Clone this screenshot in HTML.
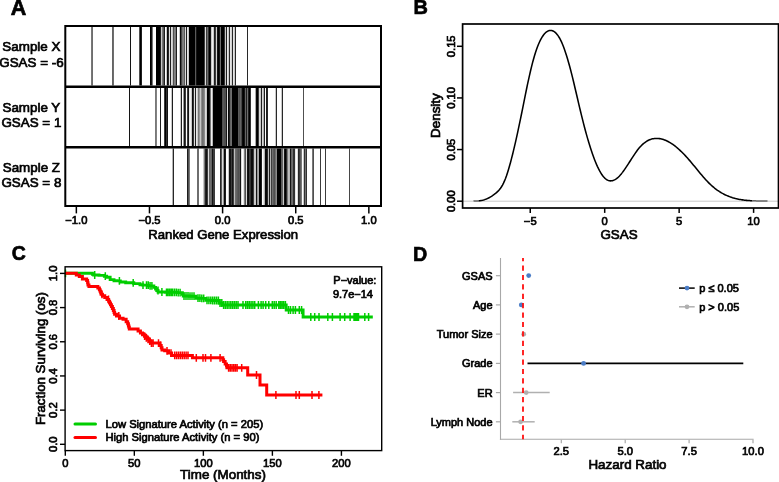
<!DOCTYPE html>
<html><head><meta charset="utf-8"><style>
html,body{margin:0;padding:0;background:#fff;}
svg{display:block;}
text{font-family:"Liberation Sans",sans-serif;}
.t text{stroke:#000;stroke-width:0.7px;}
</style></head><body>
<svg width="779" height="482" viewBox="0 0 779 482">
<rect width="779" height="482" fill="#fff"/>
<rect x="91" y="27" width="1" height="58.5" fill="#787878"/>
<rect x="92" y="27" width="1" height="58.5" fill="#6e6e6e"/>
<rect x="112" y="27" width="1" height="58.5" fill="#646464"/>
<rect x="113" y="27" width="1" height="58.5" fill="#6e6e6e"/>
<rect x="130" y="27" width="1" height="58.5" fill="#141414"/>
<rect x="139" y="27" width="1" height="58.5" fill="#505050"/>
<rect x="140" y="27" width="1" height="58.5" fill="#000000"/>
<rect x="141" y="27" width="1" height="58.5" fill="#1e1e1e"/>
<rect x="150" y="27" width="1" height="58.5" fill="#000000"/>
<rect x="151" y="27" width="1" height="58.5" fill="#141414"/>
<rect x="152" y="27" width="1" height="58.5" fill="#787878"/>
<rect x="156" y="27" width="4" height="58.5" fill="#000000"/>
<rect x="160" y="27" width="1" height="58.5" fill="#1e1e1e"/>
<rect x="161" y="27" width="1" height="58.5" fill="#c8c8c8"/>
<rect x="162" y="27" width="1" height="58.5" fill="#787878"/>
<rect x="163" y="27" width="1" height="58.5" fill="#5a5a5a"/>
<rect x="164" y="27" width="1" height="58.5" fill="#1e1e1e"/>
<rect x="166" y="27" width="1" height="58.5" fill="#c8c8c8"/>
<rect x="167" y="27" width="1" height="58.5" fill="#0a0a0a"/>
<rect x="168" y="27" width="1" height="58.5" fill="#282828"/>
<rect x="169" y="27" width="1" height="58.5" fill="#dcdcdc"/>
<rect x="170" y="27" width="1" height="58.5" fill="#1e1e1e"/>
<rect x="171" y="27" width="1" height="58.5" fill="#dcdcdc"/>
<rect x="172" y="27" width="1" height="58.5" fill="#c8c8c8"/>
<rect x="173" y="27" width="1" height="58.5" fill="#505050"/>
<rect x="174" y="27" width="1" height="58.5" fill="#828282"/>
<rect x="175" y="27" width="1" height="58.5" fill="#787878"/>
<rect x="176" y="27" width="1" height="58.5" fill="#1e1e1e"/>
<rect x="179" y="27" width="1" height="58.5" fill="#c8c8c8"/>
<rect x="180" y="27" width="1" height="58.5" fill="#0a0a0a"/>
<rect x="181" y="27" width="1" height="58.5" fill="#464646"/>
<rect x="182" y="27" width="1" height="58.5" fill="#787878"/>
<rect x="183" y="27" width="1" height="58.5" fill="#828282"/>
<rect x="184" y="27" width="1" height="58.5" fill="#5a5a5a"/>
<rect x="185" y="27" width="1" height="58.5" fill="#dcdcdc"/>
<rect x="186" y="27" width="1" height="58.5" fill="#1e1e1e"/>
<rect x="187" y="27" width="1" height="58.5" fill="#e6e6e6"/>
<rect x="188" y="27" width="1" height="58.5" fill="#c8c8c8"/>
<rect x="189" y="27" width="6" height="58.5" fill="#000000"/>
<rect x="195" y="27" width="1" height="58.5" fill="#5a5a5a"/>
<rect x="196" y="27" width="1" height="58.5" fill="#141414"/>
<rect x="197" y="27" width="7" height="58.5" fill="#000000"/>
<rect x="204" y="27" width="1" height="58.5" fill="#3c3c3c"/>
<rect x="205" y="27" width="1" height="58.5" fill="#dcdcdc"/>
<rect x="206" y="27" width="1" height="58.5" fill="#3c3c3c"/>
<rect x="207" y="27" width="1" height="58.5" fill="#6e6e6e"/>
<rect x="208" y="27" width="1" height="58.5" fill="#323232"/>
<rect x="209" y="27" width="1" height="58.5" fill="#000000"/>
<rect x="210" y="27" width="1" height="58.5" fill="#141414"/>
<rect x="211" y="27" width="1" height="58.5" fill="#c8c8c8"/>
<rect x="212" y="27" width="1" height="58.5" fill="#f0f0f0"/>
<rect x="213" y="27" width="1" height="58.5" fill="#c8c8c8"/>
<rect x="214" y="27" width="1" height="58.5" fill="#1e1e1e"/>
<rect x="215" y="27" width="1" height="58.5" fill="#3c3c3c"/>
<rect x="216" y="27" width="1" height="58.5" fill="#d2d2d2"/>
<rect x="217" y="27" width="1" height="58.5" fill="#141414"/>
<rect x="218" y="27" width="1" height="58.5" fill="#000000"/>
<rect x="219" y="27" width="1" height="58.5" fill="#141414"/>
<rect x="220" y="27" width="1" height="58.5" fill="#6e6e6e"/>
<rect x="221" y="27" width="3" height="58.5" fill="#000000"/>
<rect x="224" y="27" width="1" height="58.5" fill="#323232"/>
<rect x="225" y="27" width="1" height="58.5" fill="#c8c8c8"/>
<rect x="226" y="27" width="1" height="58.5" fill="#1e1e1e"/>
<rect x="227" y="27" width="1" height="58.5" fill="#e6e6e6"/>
<rect x="228" y="27" width="1" height="58.5" fill="#c8c8c8"/>
<rect x="229" y="27" width="1" height="58.5" fill="#282828"/>
<rect x="230" y="27" width="1" height="58.5" fill="#e6e6e6"/>
<rect x="231" y="27" width="1" height="58.5" fill="#d2d2d2"/>
<rect x="232" y="27" width="1" height="58.5" fill="#282828"/>
<rect x="233" y="27" width="1" height="58.5" fill="#e6e6e6"/>
<rect x="234" y="27" width="1" height="58.5" fill="#c8c8c8"/>
<rect x="235" y="27" width="1" height="58.5" fill="#282828"/>
<rect x="247" y="27" width="1" height="58.5" fill="#282828"/>
<rect x="129" y="88" width="1" height="58" fill="#141414"/>
<rect x="155" y="88" width="1" height="58" fill="#787878"/>
<rect x="156" y="88" width="1" height="58" fill="#828282"/>
<rect x="160" y="88" width="1" height="58" fill="#1e1e1e"/>
<rect x="164" y="88" width="1" height="58" fill="#3c3c3c"/>
<rect x="165" y="88" width="1" height="58" fill="#000000"/>
<rect x="166" y="88" width="1" height="58" fill="#323232"/>
<rect x="167" y="88" width="1" height="58" fill="#141414"/>
<rect x="171" y="88" width="1" height="58" fill="#c8c8c8"/>
<rect x="172" y="88" width="1" height="58" fill="#1e1e1e"/>
<rect x="180" y="88" width="1" height="58" fill="#c8c8c8"/>
<rect x="181" y="88" width="1" height="58" fill="#1e1e1e"/>
<rect x="183" y="88" width="1" height="58" fill="#969696"/>
<rect x="184" y="88" width="1" height="58" fill="#141414"/>
<rect x="185" y="88" width="1" height="58" fill="#3c3c3c"/>
<rect x="187" y="88" width="1" height="58" fill="#3c3c3c"/>
<rect x="188" y="88" width="1" height="58" fill="#141414"/>
<rect x="189" y="88" width="1" height="58" fill="#e6e6e6"/>
<rect x="190" y="88" width="1" height="58" fill="#f0f0f0"/>
<rect x="191" y="88" width="1" height="58" fill="#c8c8c8"/>
<rect x="192" y="88" width="1" height="58" fill="#0a0a0a"/>
<rect x="193" y="88" width="1" height="58" fill="#323232"/>
<rect x="194" y="88" width="1" height="58" fill="#dcdcdc"/>
<rect x="195" y="88" width="1" height="58" fill="#1e1e1e"/>
<rect x="196" y="88" width="1" height="58" fill="#e6e6e6"/>
<rect x="197" y="88" width="1" height="58" fill="#c8c8c8"/>
<rect x="198" y="88" width="1" height="58" fill="#787878"/>
<rect x="199" y="88" width="1" height="58" fill="#969696"/>
<rect x="200" y="88" width="1" height="58" fill="#c8c8c8"/>
<rect x="201" y="88" width="1" height="58" fill="#8c8c8c"/>
<rect x="202" y="88" width="1" height="58" fill="#6e6e6e"/>
<rect x="203" y="88" width="1" height="58" fill="#787878"/>
<rect x="204" y="88" width="1" height="58" fill="#8c8c8c"/>
<rect x="205" y="88" width="1" height="58" fill="#dcdcdc"/>
<rect x="206" y="88" width="1" height="58" fill="#c8c8c8"/>
<rect x="207" y="88" width="2" height="58" fill="#000000"/>
<rect x="209" y="88" width="1" height="58" fill="#141414"/>
<rect x="210" y="88" width="1" height="58" fill="#787878"/>
<rect x="211" y="88" width="1" height="58" fill="#f0f0f0"/>
<rect x="212" y="88" width="1" height="58" fill="#b4b4b4"/>
<rect x="213" y="88" width="9" height="58" fill="#000000"/>
<rect x="222" y="88" width="1" height="58" fill="#505050"/>
<rect x="223" y="88" width="1" height="58" fill="#5a5a5a"/>
<rect x="224" y="88" width="2" height="58" fill="#505050"/>
<rect x="226" y="88" width="1" height="58" fill="#191919"/>
<rect x="227" y="88" width="1" height="58" fill="#e1e1e1"/>
<rect x="228" y="88" width="1" height="58" fill="#0a0a0a"/>
<rect x="229" y="88" width="1" height="58" fill="#232323"/>
<rect x="230" y="88" width="1" height="58" fill="#646464"/>
<rect x="231" y="88" width="1" height="58" fill="#6e6e6e"/>
<rect x="232" y="88" width="6" height="58" fill="#000000"/>
<rect x="238" y="88" width="1" height="58" fill="#5a5a5a"/>
<rect x="239" y="88" width="1" height="58" fill="#505050"/>
<rect x="240" y="88" width="1" height="58" fill="#646464"/>
<rect x="241" y="88" width="1" height="58" fill="#464646"/>
<rect x="242" y="88" width="1" height="58" fill="#0a0a0a"/>
<rect x="243" y="88" width="1" height="58" fill="#000000"/>
<rect x="244" y="88" width="1" height="58" fill="#141414"/>
<rect x="245" y="88" width="1" height="58" fill="#646464"/>
<rect x="246" y="88" width="1" height="58" fill="#1e1e1e"/>
<rect x="247" y="88" width="1" height="58" fill="#6e6e6e"/>
<rect x="248" y="88" width="1" height="58" fill="#1e1e1e"/>
<rect x="249" y="88" width="1" height="58" fill="#000000"/>
<rect x="250" y="88" width="1" height="58" fill="#323232"/>
<rect x="255" y="88" width="1" height="58" fill="#aaaaaa"/>
<rect x="256" y="88" width="1" height="58" fill="#0a0a0a"/>
<rect x="257" y="88" width="1" height="58" fill="#000000"/>
<rect x="258" y="88" width="1" height="58" fill="#3c3c3c"/>
<rect x="259" y="88" width="1" height="58" fill="#dcdcdc"/>
<rect x="260" y="88" width="1" height="58" fill="#c8c8c8"/>
<rect x="261" y="88" width="1" height="58" fill="#1e1e1e"/>
<rect x="262" y="88" width="1" height="58" fill="#d7d7d7"/>
<rect x="263" y="88" width="1" height="58" fill="#afafaf"/>
<rect x="264" y="88" width="1" height="58" fill="#1e1e1e"/>
<rect x="266" y="88" width="1" height="58" fill="#1e1e1e"/>
<rect x="267" y="88" width="1" height="58" fill="#282828"/>
<rect x="275" y="88" width="1" height="58" fill="#c8c8c8"/>
<rect x="276" y="88" width="1" height="58" fill="#282828"/>
<rect x="281" y="88" width="1" height="58" fill="#c8c8c8"/>
<rect x="282" y="88" width="1" height="58" fill="#282828"/>
<rect x="303" y="88" width="1" height="58" fill="#505050"/>
<rect x="172" y="148.5" width="1" height="56.5" fill="#b4b4b4"/>
<rect x="173" y="148.5" width="1" height="56.5" fill="#282828"/>
<rect x="187" y="148.5" width="1" height="56.5" fill="#1e1e1e"/>
<rect x="188" y="148.5" width="1" height="56.5" fill="#505050"/>
<rect x="189" y="148.5" width="1" height="56.5" fill="#787878"/>
<rect x="197" y="148.5" width="2" height="56.5" fill="#6e6e6e"/>
<rect x="203" y="148.5" width="1" height="56.5" fill="#c8c8c8"/>
<rect x="204" y="148.5" width="1" height="56.5" fill="#787878"/>
<rect x="205" y="148.5" width="1" height="56.5" fill="#232323"/>
<rect x="206" y="148.5" width="1" height="56.5" fill="#141414"/>
<rect x="207" y="148.5" width="1" height="56.5" fill="#3c3c3c"/>
<rect x="208" y="148.5" width="1" height="56.5" fill="#dcdcdc"/>
<rect x="209" y="148.5" width="1" height="56.5" fill="#646464"/>
<rect x="210" y="148.5" width="1" height="56.5" fill="#6e6e6e"/>
<rect x="211" y="148.5" width="1" height="56.5" fill="#646464"/>
<rect x="212" y="148.5" width="1" height="56.5" fill="#141414"/>
<rect x="213" y="148.5" width="2" height="56.5" fill="#3c3c3c"/>
<rect x="220" y="148.5" width="1" height="56.5" fill="#282828"/>
<rect x="221" y="148.5" width="1" height="56.5" fill="#5a5a5a"/>
<rect x="222" y="148.5" width="1" height="56.5" fill="#dcdcdc"/>
<rect x="223" y="148.5" width="1" height="56.5" fill="#969696"/>
<rect x="224" y="148.5" width="1" height="56.5" fill="#0a0a0a"/>
<rect x="225" y="148.5" width="1" height="56.5" fill="#1e1e1e"/>
<rect x="228" y="148.5" width="1" height="56.5" fill="#c8c8c8"/>
<rect x="229" y="148.5" width="2" height="56.5" fill="#141414"/>
<rect x="231" y="148.5" width="1" height="56.5" fill="#3c3c3c"/>
<rect x="232" y="148.5" width="1" height="56.5" fill="#141414"/>
<rect x="233" y="148.5" width="1" height="56.5" fill="#3c3c3c"/>
<rect x="234" y="148.5" width="1" height="56.5" fill="#bebebe"/>
<rect x="235" y="148.5" width="1" height="56.5" fill="#6e6e6e"/>
<rect x="236" y="148.5" width="1" height="56.5" fill="#646464"/>
<rect x="237" y="148.5" width="1" height="56.5" fill="#5a5a5a"/>
<rect x="238" y="148.5" width="1" height="56.5" fill="#505050"/>
<rect x="239" y="148.5" width="1" height="56.5" fill="#5a5a5a"/>
<rect x="240" y="148.5" width="1" height="56.5" fill="#141414"/>
<rect x="241" y="148.5" width="1" height="56.5" fill="#dcdcdc"/>
<rect x="243" y="148.5" width="1" height="56.5" fill="#e6e6e6"/>
<rect x="244" y="148.5" width="1" height="56.5" fill="#828282"/>
<rect x="245" y="148.5" width="1" height="56.5" fill="#505050"/>
<rect x="246" y="148.5" width="1" height="56.5" fill="#dcdcdc"/>
<rect x="247" y="148.5" width="1" height="56.5" fill="#141414"/>
<rect x="248" y="148.5" width="1" height="56.5" fill="#0a0a0a"/>
<rect x="249" y="148.5" width="1" height="56.5" fill="#3c3c3c"/>
<rect x="250" y="148.5" width="1" height="56.5" fill="#323232"/>
<rect x="251" y="148.5" width="2" height="56.5" fill="#0a0a0a"/>
<rect x="253" y="148.5" width="1" height="56.5" fill="#3c3c3c"/>
<rect x="254" y="148.5" width="2" height="56.5" fill="#c8c8c8"/>
<rect x="256" y="148.5" width="1" height="56.5" fill="#141414"/>
<rect x="257" y="148.5" width="1" height="56.5" fill="#969696"/>
<rect x="258" y="148.5" width="1" height="56.5" fill="#aaaaaa"/>
<rect x="259" y="148.5" width="2" height="56.5" fill="#000000"/>
<rect x="261" y="148.5" width="1" height="56.5" fill="#1e1e1e"/>
<rect x="263" y="148.5" width="1" height="56.5" fill="#e6e6e6"/>
<rect x="264" y="148.5" width="1" height="56.5" fill="#b4b4b4"/>
<rect x="265" y="148.5" width="2" height="56.5" fill="#0a0a0a"/>
<rect x="267" y="148.5" width="1" height="56.5" fill="#282828"/>
<rect x="268" y="148.5" width="1" height="56.5" fill="#bebebe"/>
<rect x="269" y="148.5" width="1" height="56.5" fill="#1e1e1e"/>
<rect x="270" y="148.5" width="1" height="56.5" fill="#b4b4b4"/>
<rect x="271" y="148.5" width="1" height="56.5" fill="#3c3c3c"/>
<rect x="272" y="148.5" width="1" height="56.5" fill="#6e6e6e"/>
<rect x="273" y="148.5" width="1" height="56.5" fill="#5a5a5a"/>
<rect x="274" y="148.5" width="1" height="56.5" fill="#505050"/>
<rect x="275" y="148.5" width="1" height="56.5" fill="#6e6e6e"/>
<rect x="276" y="148.5" width="1" height="56.5" fill="#8c8c8c"/>
<rect x="277" y="148.5" width="4" height="56.5" fill="#000000"/>
<rect x="281" y="148.5" width="1" height="56.5" fill="#5a5a5a"/>
<rect x="282" y="148.5" width="1" height="56.5" fill="#646464"/>
<rect x="283" y="148.5" width="1" height="56.5" fill="#c8c8c8"/>
<rect x="284" y="148.5" width="1" height="56.5" fill="#141414"/>
<rect x="285" y="148.5" width="1" height="56.5" fill="#000000"/>
<rect x="286" y="148.5" width="1" height="56.5" fill="#282828"/>
<rect x="287" y="148.5" width="1" height="56.5" fill="#787878"/>
<rect x="288" y="148.5" width="1" height="56.5" fill="#bebebe"/>
<rect x="289" y="148.5" width="1" height="56.5" fill="#b4b4b4"/>
<rect x="290" y="148.5" width="1" height="56.5" fill="#141414"/>
<rect x="291" y="148.5" width="1" height="56.5" fill="#646464"/>
<rect x="292" y="148.5" width="1" height="56.5" fill="#6e6e6e"/>
<rect x="293" y="148.5" width="2" height="56.5" fill="#323232"/>
<rect x="295" y="148.5" width="1" height="56.5" fill="#e6e6e6"/>
<rect x="297" y="148.5" width="1" height="56.5" fill="#dcdcdc"/>
<rect x="298" y="148.5" width="1" height="56.5" fill="#282828"/>
<rect x="299" y="148.5" width="1" height="56.5" fill="#3c3c3c"/>
<rect x="300" y="148.5" width="1" height="56.5" fill="#5a5a5a"/>
<rect x="301" y="148.5" width="1" height="56.5" fill="#787878"/>
<rect x="303" y="148.5" width="1" height="56.5" fill="#c8c8c8"/>
<rect x="304" y="148.5" width="1" height="56.5" fill="#323232"/>
<rect x="305" y="148.5" width="1" height="56.5" fill="#6e6e6e"/>
<rect x="306" y="148.5" width="1" height="56.5" fill="#323232"/>
<rect x="312" y="148.5" width="1" height="56.5" fill="#787878"/>
<rect x="313" y="148.5" width="1" height="56.5" fill="#505050"/>
<rect x="320" y="148.5" width="1" height="56.5" fill="#3c3c3c"/>
<rect x="325" y="148.5" width="1" height="56.5" fill="#3c3c3c"/>
<rect x="349" y="148.5" width="1" height="56.5" fill="#464646"/>
<rect x="65.3" y="26" width="315.7" height="180" fill="none" stroke="#000" stroke-width="2"/>
<line x1="65.3" y1="86.7" x2="381" y2="86.7" stroke="#000" stroke-width="2.5"/>
<line x1="65.3" y1="147.2" x2="381" y2="147.2" stroke="#000" stroke-width="2.5"/>
<line x1="76.35" y1="207" x2="76.35" y2="213.4" stroke="#000" stroke-width="1.5"/>
<line x1="149.47" y1="207" x2="149.47" y2="213.4" stroke="#000" stroke-width="1.5"/>
<line x1="222.6" y1="207" x2="222.6" y2="213.4" stroke="#000" stroke-width="1.5"/>
<line x1="295.73" y1="207" x2="295.73" y2="213.4" stroke="#000" stroke-width="1.5"/>
<line x1="368.85" y1="207" x2="368.85" y2="213.4" stroke="#000" stroke-width="1.5"/>
<line x1="462.6" y1="201.2" x2="778" y2="201.2" stroke="#c8c8c8" stroke-width="1"/>
<path d="M478.5,200.86 L479.5,200.75 L480.5,200.61 L481.5,200.43 L482.5,200.20 L483.5,199.94 L484.5,199.64 L485.5,199.29 L486.5,198.91 L487.5,198.48 L488.5,198.01 L489.5,197.49 L490.5,196.93 L491.5,196.32 L492.5,195.67 L493.5,194.97 L494.5,194.23 L495.5,193.44 L496.5,192.59 L497.5,191.68 L498.5,190.67 L499.5,189.53 L500.5,188.24 L501.5,186.76 L502.5,185.07 L503.5,183.14 L504.5,180.93 L505.5,178.45 L506.5,175.71 L507.5,172.72 L508.5,169.51 L509.5,166.08 L510.5,162.46 L511.5,158.67 L512.5,154.71 L513.5,150.61 L514.5,146.39 L515.5,142.05 L516.5,137.61 L517.5,133.06 L518.5,128.43 L519.5,123.71 L520.5,118.91 L521.5,114.02 L522.5,109.06 L523.5,104.05 L524.5,99.05 L525.5,94.09 L526.5,89.22 L527.5,84.44 L528.5,79.80 L529.5,75.30 L530.5,70.96 L531.5,66.82 L532.5,62.88 L533.5,59.18 L534.5,55.72 L535.5,52.51 L536.5,49.54 L537.5,46.80 L538.5,44.29 L539.5,42.01 L540.5,39.95 L541.5,38.10 L542.5,36.46 L543.5,35.03 L544.5,33.81 L545.5,32.78 L546.5,31.94 L547.5,31.29 L548.5,30.83 L549.5,30.54 L550.5,30.43 L551.5,30.50 L552.5,30.76 L553.5,31.20 L554.5,31.83 L555.5,32.66 L556.5,33.69 L557.5,34.92 L558.5,36.35 L559.5,37.99 L560.5,39.85 L561.5,41.92 L562.5,44.22 L563.5,46.73 L564.5,49.46 L565.5,52.38 L566.5,55.48 L567.5,58.77 L568.5,62.22 L569.5,65.82 L570.5,69.56 L571.5,73.43 L572.5,77.43 L573.5,81.52 L574.5,85.70 L575.5,89.95 L576.5,94.23 L577.5,98.52 L578.5,102.81 L579.5,107.07 L580.5,111.27 L581.5,115.39 L582.5,119.43 L583.5,123.37 L584.5,127.21 L585.5,130.96 L586.5,134.59 L587.5,138.12 L588.5,141.54 L589.5,144.84 L590.5,148.03 L591.5,151.08 L592.5,154.01 L593.5,156.81 L594.5,159.47 L595.5,162.00 L596.5,164.38 L597.5,166.62 L598.5,168.70 L599.5,170.63 L600.5,172.40 L601.5,174.01 L602.5,175.45 L603.5,176.73 L604.5,177.83 L605.5,178.75 L606.5,179.51 L607.5,180.09 L608.5,180.51 L609.5,180.77 L610.5,180.88 L611.5,180.85 L612.5,180.67 L613.5,180.36 L614.5,179.91 L615.5,179.35 L616.5,178.66 L617.5,177.86 L618.5,176.95 L619.5,175.93 L620.5,174.83 L621.5,173.63 L622.5,172.36 L623.5,171.01 L624.5,169.61 L625.5,168.16 L626.5,166.67 L627.5,165.14 L628.5,163.59 L629.5,162.03 L630.5,160.46 L631.5,158.89 L632.5,157.34 L633.5,155.81 L634.5,154.31 L635.5,152.84 L636.5,151.43 L637.5,150.08 L638.5,148.79 L639.5,147.58 L640.5,146.46 L641.5,145.41 L642.5,144.45 L643.5,143.57 L644.5,142.76 L645.5,142.03 L646.5,141.37 L647.5,140.79 L648.5,140.27 L649.5,139.82 L650.5,139.44 L651.5,139.12 L652.5,138.86 L653.5,138.66 L654.5,138.52 L655.5,138.44 L656.5,138.41 L657.5,138.43 L658.5,138.50 L659.5,138.62 L660.5,138.78 L661.5,139.00 L662.5,139.26 L663.5,139.57 L664.5,139.92 L665.5,140.32 L666.5,140.75 L667.5,141.23 L668.5,141.75 L669.5,142.31 L670.5,142.91 L671.5,143.55 L672.5,144.22 L673.5,144.93 L674.5,145.67 L675.5,146.45 L676.5,147.26 L677.5,148.10 L678.5,148.98 L679.5,149.88 L680.5,150.82 L681.5,151.78 L682.5,152.77 L683.5,153.78 L684.5,154.82 L685.5,155.89 L686.5,156.98 L687.5,158.09 L688.5,159.22 L689.5,160.37 L690.5,161.54 L691.5,162.73 L692.5,163.93 L693.5,165.14 L694.5,166.36 L695.5,167.58 L696.5,168.80 L697.5,170.02 L698.5,171.24 L699.5,172.45 L700.5,173.66 L701.5,174.85 L702.5,176.02 L703.5,177.18 L704.5,178.32 L705.5,179.43 L706.5,180.52 L707.5,181.57 L708.5,182.60 L709.5,183.59 L710.5,184.55 L711.5,185.47 L712.5,186.35 L713.5,187.20 L714.5,188.02 L715.5,188.80 L716.5,189.55 L717.5,190.27 L718.5,190.95 L719.5,191.61 L720.5,192.23 L721.5,192.83 L722.5,193.40 L723.5,193.94 L724.5,194.45 L725.5,194.94 L726.5,195.40 L727.5,195.84 L728.5,196.25 L729.5,196.64 L730.5,197.01 L731.5,197.35 L732.5,197.68 L733.5,197.98 L734.5,198.26 L735.5,198.53 L736.5,198.77 L737.5,199.00 L738.5,199.21 L739.5,199.40 L740.5,199.58 L741.5,199.74 L742.5,199.89 L743.5,200.03 L744.5,200.15 L745.5,200.26 L746.5,200.36 L747.5,200.45 L748.5,200.53 L749.5,200.60 L750.5,200.66 L751.5,200.71 L752.5,200.76" fill="none" stroke="#000" stroke-width="1.55" stroke-linejoin="round"/>
<path d="M473.5,200.83 L474.5,200.91 L475.5,200.95 L476.5,200.95 L477.5,200.92 L478.5,200.86" fill="none" stroke="#666" stroke-width="1.5"/>
<path d="M752.5,200.76 L753.5,200.80 L754.5,200.83 L755.5,200.86 L756.5,200.88 L757.5,200.90 L758.5,200.92 L759.5,200.94 L760.5,200.95 L761.5,200.96 L762.5,200.98 L763.5,200.99 L764.5,201.00 L765.5,201.02 L766.5,201.04 L767.5,201.06" fill="none" stroke="#666" stroke-width="1.5"/>
<rect x="462.6" y="24" width="315.9" height="184" fill="none" stroke="#000" stroke-width="1.7"/>
<line x1="457" y1="201.2" x2="462.6" y2="201.2" stroke="#000" stroke-width="1.5"/>
<line x1="457" y1="149.56" x2="462.6" y2="149.56" stroke="#000" stroke-width="1.5"/>
<line x1="457" y1="97.93" x2="462.6" y2="97.93" stroke="#000" stroke-width="1.5"/>
<line x1="457" y1="46.29" x2="462.6" y2="46.29" stroke="#000" stroke-width="1.5"/>
<line x1="530.25" y1="208" x2="530.25" y2="212.9" stroke="#000" stroke-width="1.5"/>
<line x1="604.7" y1="208" x2="604.7" y2="212.9" stroke="#000" stroke-width="1.5"/>
<line x1="679.15" y1="208" x2="679.15" y2="212.9" stroke="#000" stroke-width="1.5"/>
<line x1="753.6" y1="208" x2="753.6" y2="212.9" stroke="#000" stroke-width="1.5"/>
<path d="M65.00,273.30 L92.00,273.30 L92.40,273.30 L92.40,274.20 L92.80,274.20 L93.60,274.20 L93.60,275.00 L94.40,275.00 L99.00,275.00 L99.00,275.40 L103.60,275.40 L104.35,275.40 L104.35,276.20 L105.10,276.20 L106.65,276.20 L106.65,277.30 L108.20,277.30 L110.15,277.30 L110.15,279.60 L112.10,279.60 L114.00,279.60 L114.00,280.80 L115.90,280.80 L116.95,280.80 L116.95,280.90 L118.00,280.90 L120.30,280.90 L120.30,282.00 L122.60,282.00 L125.70,282.00 L125.70,282.80 L128.80,282.80 L133.80,282.80 L133.80,283.60 L138.80,283.60 L139.95,283.60 L139.95,284.70 L141.10,284.70 L142.65,284.70 L142.65,285.10 L144.20,285.10 L148.45,285.10 L148.45,285.90 L152.70,285.90 L153.85,285.90 L153.85,287.40 L155.00,287.40 L155.57,287.40 L155.57,288.95 L156.73,288.95 L156.73,290.50 L157.30,290.50 L158.05,290.50 L158.05,292.00 L158.80,292.00 L165.40,292.00 L165.40,292.30 L172.00,292.30 L177.00,292.30 L177.00,292.60 L182.00,292.60 L182.40,292.60 L182.40,294.30 L183.20,294.30 L183.20,296.00 L183.60,296.00 L189.30,296.00 L189.30,296.20 L195.00,296.20 L196.00,296.20 L196.00,298.20 L197.00,298.20 L201.00,298.20 L201.00,298.40 L205.00,298.40 L205.85,298.40 L205.85,300.30 L206.70,300.30 L212.45,300.30 L212.45,300.50 L218.20,300.50 L219.10,300.50 L219.10,303.00 L220.00,303.00 L222.00,303.00 L222.00,305.00 L224.00,305.00 L286.20,305.00 L286.20,310.00 L303.10,310.00 L303.10,317.00 L372.80,317.00" fill="none" stroke="#00cd00" stroke-width="2.9" stroke-linejoin="miter"/>
<path d="M65.50,269.40 L65.50,277.20 M94.70,271.10 L94.70,278.90 M105.30,272.30 L105.30,280.10 M119.40,277.00 L119.40,284.80 M133.20,278.90 L133.20,286.70 M143.00,281.20 L143.00,289.00 M146.50,281.20 L146.50,289.00 M148.30,281.20 L148.30,289.00 M150.10,282.00 L150.10,289.80 M151.90,282.00 L151.90,289.80 M158.00,286.60 L158.00,294.40 M161.90,288.10 L161.90,295.90 M166.50,288.40 L166.50,296.20 M168.00,288.40 L168.00,296.20 M169.60,288.40 L169.60,296.20 M171.20,288.40 L171.20,296.20 M172.50,288.40 L172.50,296.20 M174.40,288.40 L174.40,296.20 M176.30,288.40 L176.30,296.20 M178.20,288.70 L178.20,296.50 M180.10,288.70 L180.10,296.50 M184.00,292.10 L184.00,299.90 M186.00,292.10 L186.00,299.90 M188.00,292.10 L188.00,299.90 M190.00,292.30 L190.00,300.10 M192.00,292.30 L192.00,300.10 M194.00,292.30 L194.00,300.10 M198.00,294.30 L198.00,302.10 M199.90,294.30 L199.90,302.10 M201.80,294.50 L201.80,302.30 M203.70,294.50 L203.70,302.30 M207.00,296.40 L207.00,304.20 M208.90,296.40 L208.90,304.20 M210.80,296.40 L210.80,304.20 M212.70,296.60 L212.70,304.40 M214.60,296.60 L214.60,304.40 M216.50,296.60 L216.50,304.40 M218.40,296.60 L218.40,304.40 M220.00,299.10 L220.00,306.90 M221.80,299.10 L221.80,306.90 M223.60,301.10 L223.60,308.90 M225.40,301.10 L225.40,308.90 M227.20,301.10 L227.20,308.90 M229.00,301.10 L229.00,308.90 M230.80,301.10 L230.80,308.90 M232.60,301.10 L232.60,308.90 M234.40,301.10 L234.40,308.90 M236.20,301.10 L236.20,308.90 M238.00,301.10 L238.00,308.90 M243.00,301.10 L243.00,308.90 M245.70,301.10 L245.70,308.90 M247.50,301.10 L247.50,308.90 M249.30,301.10 L249.30,308.90 M251.10,301.10 L251.10,308.90 M252.90,301.10 L252.90,308.90 M254.70,301.10 L254.70,308.90 M258.40,301.10 L258.40,308.90 M261.10,301.10 L261.10,308.90 M263.10,301.10 L263.10,308.90 M265.70,301.10 L265.70,308.90 M268.80,301.10 L268.80,308.90 M272.30,301.10 L272.30,308.90 M274.20,301.10 L274.20,308.90 M276.20,301.10 L276.20,308.90 M278.80,301.10 L278.80,308.90 M280.40,301.10 L280.40,308.90 M282.00,301.10 L282.00,308.90 M283.60,301.10 L283.60,308.90 M285.40,301.10 L285.40,308.90 M288.50,306.10 L288.50,313.90 M290.50,306.10 L290.50,313.90 M293.10,306.10 L293.10,313.90 M295.40,306.10 L295.40,313.90 M299.30,306.10 L299.30,313.90 M301.60,306.10 L301.60,313.90 M310.80,313.10 L310.80,320.90 M314.70,313.10 L314.70,320.90 M319.00,313.10 L319.00,320.90 M327.80,313.10 L327.80,320.90 M332.40,313.10 L332.40,320.90 M340.10,313.10 L340.10,320.90 M344.70,313.10 L344.70,320.90 M350.10,313.10 L350.10,320.90 M354.00,313.10 L354.00,320.90 M355.50,313.10 L355.50,320.90 M357.00,313.10 L357.00,320.90 M358.50,313.10 L358.50,320.90 M364.80,313.10 L364.80,320.90 M368.60,313.10 L368.60,320.90 " fill="none" stroke="#00cd00" stroke-width="1.5"/>
<path d="M65.00,273.30 L76.30,273.30 L76.30,275.00 L79.30,275.00 L79.30,276.50 L82.40,276.50 L82.40,278.90 L85.90,278.90 L86.65,278.90 L86.65,280.40 L87.40,280.40 L87.60,280.40 L87.60,282.70 L88.00,282.70 L88.00,285.00 L88.20,285.00 L88.95,285.00 L88.95,286.60 L89.70,286.60 L96.70,286.60 L97.85,286.60 L97.85,288.10 L99.00,288.10 L99.38,288.10 L99.38,289.65 L100.12,289.65 L100.12,291.20 L100.50,291.20 L100.70,291.20 L100.70,292.75 L101.10,292.75 L101.10,294.30 L101.30,294.30 L102.45,294.30 L102.45,295.80 L103.60,295.80 L104.75,295.80 L104.75,297.40 L105.90,297.40 L107.05,297.40 L107.05,299.50 L108.20,299.50 L108.66,299.50 L108.66,301.27 L109.59,301.27 L109.59,303.05 L110.51,303.05 L110.51,304.83 L111.44,304.83 L111.44,306.60 L111.90,306.60 L112.38,306.60 L112.38,308.55 L113.33,308.55 L113.33,310.50 L113.80,310.50 L114.08,310.50 L114.08,312.40 L114.62,312.40 L114.62,314.30 L114.90,314.30 L116.45,314.30 L116.45,315.90 L118.00,315.90 L119.55,315.90 L119.55,318.20 L121.10,318.20 L123.05,318.20 L123.05,319.30 L125.00,319.30 L126.15,319.30 L126.15,321.70 L127.30,321.70 L127.67,321.70 L127.67,323.80 L128.43,323.80 L128.43,325.90 L128.80,325.90 L128.98,325.90 L128.98,327.40 L129.32,327.40 L129.32,328.90 L129.50,328.90 L136.90,328.90 L138.07,328.90 L138.07,331.00 L140.43,331.00 L140.43,333.10 L141.60,333.10 L142.55,333.10 L142.55,334.65 L144.45,334.65 L144.45,336.20 L145.40,336.20 L146.18,336.20 L146.18,337.75 L147.72,337.75 L147.72,339.30 L148.50,339.30 L149.45,339.30 L149.45,341.20 L151.35,341.20 L151.35,343.10 L152.30,343.10 L158.50,343.10 L159.65,343.10 L159.65,345.40 L160.80,345.40 L161.20,345.40 L161.20,347.70 L162.00,347.70 L162.00,350.00 L162.40,350.00 L164.70,350.00 L164.70,350.80 L167.00,350.80 L168.55,350.80 L168.55,353.10 L170.10,353.10 L171.60,353.10 L171.60,355.40 L173.10,355.40 L191.60,355.40 L192.40,355.40 L192.40,357.80 L193.20,357.80 L222.40,357.80 L222.80,357.80 L222.80,359.70 L223.60,359.70 L223.60,361.60 L224.00,361.60 L225.15,361.60 L225.15,363.90 L226.30,363.90 L226.50,363.90 L226.50,365.85 L226.90,365.85 L226.90,367.80 L227.10,367.80 L247.70,367.80 L247.70,375.00 L260.00,375.00 L260.00,385.10 L266.70,385.10 L266.70,395.00 L322.40,395.00" fill="none" stroke="#ff0000" stroke-width="3.0" stroke-linejoin="miter"/>
<path d="M102.00,290.40 L102.00,298.20 M108.50,295.60 L108.50,303.40 M118.80,312.00 L118.80,319.80 M144.60,332.30 L144.60,340.10 M146.30,333.85 L146.30,341.65 M148.00,335.40 L148.00,343.20 M149.70,337.30 L149.70,345.10 M151.40,339.20 L151.40,347.00 M153.10,339.20 L153.10,347.00 M158.50,339.20 L158.50,347.00 M160.80,341.50 L160.80,349.30 M167.00,346.90 L167.00,354.70 M171.00,349.20 L171.00,357.00 M174.70,351.50 L174.70,359.30 M176.60,351.50 L176.60,359.30 M178.50,351.50 L178.50,359.30 M180.40,351.50 L180.40,359.30 M182.30,351.50 L182.30,359.30 M184.20,351.50 L184.20,359.30 M186.10,351.50 L186.10,359.30 M188.00,351.50 L188.00,359.30 M196.30,353.90 L196.30,361.70 M203.00,353.90 L203.00,361.70 M205.50,353.90 L205.50,361.70 M210.90,353.90 L210.90,361.70 M220.10,353.90 L220.10,361.70 M228.60,363.90 L228.60,371.70 M230.30,363.90 L230.30,371.70 M232.00,363.90 L232.00,371.70 M233.70,363.90 L233.70,371.70 M235.40,363.90 L235.40,371.70 M237.10,363.90 L237.10,371.70 M241.70,363.90 L241.70,371.70 M256.50,371.10 L256.50,378.90 M275.90,391.10 L275.90,398.90 M296.00,391.10 L296.00,398.90 M299.30,391.10 L299.30,398.90 M312.00,391.10 L312.00,398.90 M318.90,391.10 L318.90,398.90 " fill="none" stroke="#ff0000" stroke-width="1.5"/>
<rect x="65.1" y="266.8" width="316.6" height="183.8" fill="none" stroke="#000" stroke-width="1.4"/>
<line x1="60" y1="444.3" x2="65.1" y2="444.3" stroke="#000" stroke-width="1.4"/>
<line x1="60" y1="410.12" x2="65.1" y2="410.12" stroke="#000" stroke-width="1.4"/>
<line x1="60" y1="375.94" x2="65.1" y2="375.94" stroke="#000" stroke-width="1.4"/>
<line x1="60" y1="341.76" x2="65.1" y2="341.76" stroke="#000" stroke-width="1.4"/>
<line x1="60" y1="307.58" x2="65.1" y2="307.58" stroke="#000" stroke-width="1.4"/>
<line x1="60" y1="273.4" x2="65.1" y2="273.4" stroke="#000" stroke-width="1.4"/>
<line x1="65.3" y1="450.6" x2="65.3" y2="455.8" stroke="#000" stroke-width="1.4"/>
<line x1="134.33" y1="450.6" x2="134.33" y2="455.8" stroke="#000" stroke-width="1.4"/>
<line x1="203.36" y1="450.6" x2="203.36" y2="455.8" stroke="#000" stroke-width="1.4"/>
<line x1="272.39" y1="450.6" x2="272.39" y2="455.8" stroke="#000" stroke-width="1.4"/>
<line x1="341.42" y1="450.6" x2="341.42" y2="455.8" stroke="#000" stroke-width="1.4"/>
<line x1="75" y1="424" x2="95.5" y2="424" stroke="#00cd00" stroke-width="3" stroke-linecap="round"/>
<line x1="75" y1="437.4" x2="95.5" y2="437.4" stroke="#ff0000" stroke-width="3" stroke-linecap="round"/>
<line x1="500.5" y1="258" x2="500.5" y2="439.7" stroke="#a8a8a8" stroke-width="1.1"/>
<line x1="499.9" y1="439.2" x2="753.6" y2="439.2" stroke="#a8a8a8" stroke-width="1.1"/>
<line x1="495.9" y1="275.7" x2="500.5" y2="275.7" stroke="#a8a8a8" stroke-width="1.2"/>
<line x1="495.9" y1="304.9" x2="500.5" y2="304.9" stroke="#a8a8a8" stroke-width="1.2"/>
<line x1="495.9" y1="334.1" x2="500.5" y2="334.1" stroke="#a8a8a8" stroke-width="1.2"/>
<line x1="495.9" y1="363.4" x2="500.5" y2="363.4" stroke="#a8a8a8" stroke-width="1.2"/>
<line x1="495.9" y1="392.6" x2="500.5" y2="392.6" stroke="#a8a8a8" stroke-width="1.2"/>
<line x1="495.9" y1="421.8" x2="500.5" y2="421.8" stroke="#a8a8a8" stroke-width="1.2"/>
<line x1="561.3" y1="439.7" x2="561.3" y2="443.2" stroke="#a8a8a8" stroke-width="1.2"/>
<line x1="625.2" y1="439.7" x2="625.2" y2="443.2" stroke="#a8a8a8" stroke-width="1.2"/>
<line x1="689.1" y1="439.7" x2="689.1" y2="443.2" stroke="#a8a8a8" stroke-width="1.2"/>
<line x1="753.0" y1="439.7" x2="753.0" y2="443.2" stroke="#a8a8a8" stroke-width="1.2"/>
<line x1="527.5" y1="363.4" x2="743.3" y2="363.4" stroke="#000" stroke-width="1.6"/>
<line x1="513.1" y1="392.6" x2="549.7" y2="392.6" stroke="#b0b0b0" stroke-width="1.5"/>
<line x1="512.3" y1="421.8" x2="534.7" y2="421.8" stroke="#b0b0b0" stroke-width="1.5"/>
<circle cx="528.7" cy="275.6" r="2.4" fill="#4a7cc6"/>
<circle cx="521.3" cy="304.9" r="2.4" fill="#4a7cc6"/>
<circle cx="523.7" cy="334.2" r="2.4" fill="#b0b0b0"/>
<circle cx="583.6" cy="363.4" r="2.4" fill="#4a7cc6"/>
<circle cx="526.2" cy="392.6" r="2.4" fill="#b0b0b0"/>
<circle cx="520.6" cy="421.8" r="2.4" fill="#b0b0b0"/>
<line x1="523" y1="258" x2="523" y2="439.2" stroke="#ff1010" stroke-width="1.8" stroke-dasharray="5.2 4.2" stroke-dashoffset="-7.5"/>
<line x1="679" y1="288.1" x2="694.7" y2="288.1" stroke="#000" stroke-width="1.5"/>
<circle cx="687" cy="288.1" r="2.4" fill="#4a7cc6"/>
<line x1="679" y1="306.8" x2="694.7" y2="306.8" stroke="#b0b0b0" stroke-width="1.5"/>
<circle cx="687" cy="306.8" r="2.4" fill="#b0b0b0"/>
<g class="t" opacity="0.999">
<text transform="translate(10.7 14.5) scale(1.0 1)" font-size="21.5" font-weight="bold">A</text>
<text x="31.4" y="51.3" font-size="13.4" text-anchor="middle" font-weight="normal" fill="#000">Sample X</text>
<text x="31.4" y="66.8" font-size="13.4" text-anchor="middle" font-weight="normal" fill="#000">GSAS = -6</text>
<text x="31.4" y="111.8" font-size="13.4" text-anchor="middle" font-weight="normal" fill="#000">Sample Y</text>
<text x="31.4" y="126.8" font-size="13.4" text-anchor="middle" font-weight="normal" fill="#000">GSAS = 1</text>
<text x="31.4" y="171.5" font-size="13.4" text-anchor="middle" font-weight="normal" fill="#000">Sample Z</text>
<text x="31.4" y="186.8" font-size="13.4" text-anchor="middle" font-weight="normal" fill="#000">GSAS = 8</text>
<text x="76.35" y="224.4" font-size="11.2" text-anchor="middle" font-weight="normal" fill="#000">−1.0</text>
<text x="149.47" y="224.4" font-size="11.2" text-anchor="middle" font-weight="normal" fill="#000">−0.5</text>
<text x="222.6" y="224.4" font-size="11.2" text-anchor="middle" font-weight="normal" fill="#000">0.0</text>
<text x="295.73" y="224.4" font-size="11.2" text-anchor="middle" font-weight="normal" fill="#000">0.5</text>
<text x="368.85" y="224.4" font-size="11.2" text-anchor="middle" font-weight="normal" fill="#000">1.0</text>
<text x="223.2" y="238.9" font-size="13.15" text-anchor="middle" font-weight="normal" fill="#000">Ranked Gene Expression</text>
<text transform="translate(413.6 14.4) scale(0.95 1)" font-size="21.0" font-weight="bold">B</text>
<text x="455.4" y="201.2" font-size="11.2" text-anchor="middle" font-weight="normal" fill="#000" transform="rotate(-90 455.4 201.2)">0.00</text>
<text x="455.4" y="149.56" font-size="11.2" text-anchor="middle" font-weight="normal" fill="#000" transform="rotate(-90 455.4 149.56)">0.05</text>
<text x="455.4" y="97.93" font-size="11.2" text-anchor="middle" font-weight="normal" fill="#000" transform="rotate(-90 455.4 97.93)">0.10</text>
<text x="455.4" y="46.29" font-size="11.2" text-anchor="middle" font-weight="normal" fill="#000" transform="rotate(-90 455.4 46.29)">0.15</text>
<text x="530.25" y="224.5" font-size="11.2" text-anchor="middle" font-weight="normal" fill="#000">−5</text>
<text x="604.7" y="224.5" font-size="11.2" text-anchor="middle" font-weight="normal" fill="#000">0</text>
<text x="679.15" y="224.5" font-size="11.2" text-anchor="middle" font-weight="normal" fill="#000">5</text>
<text x="753.6" y="224.5" font-size="11.2" text-anchor="middle" font-weight="normal" fill="#000">10</text>
<text x="619" y="239" font-size="13.4" text-anchor="middle" font-weight="normal" fill="#000">GSAS</text>
<text x="439.6" y="115.6" font-size="13.4" text-anchor="middle" font-weight="normal" fill="#000" transform="rotate(-90 439.6 115.6)">Density</text>
<text transform="translate(11.7 260.3) scale(0.95 1)" font-size="20.5" font-weight="bold">C</text>
<text x="57.4" y="444.3" font-size="11.2" text-anchor="middle" font-weight="normal" fill="#000" transform="rotate(-90 57.4 444.3)">0.0</text>
<text x="57.4" y="410.12" font-size="11.2" text-anchor="middle" font-weight="normal" fill="#000" transform="rotate(-90 57.4 410.12)">0.2</text>
<text x="57.4" y="375.94" font-size="11.2" text-anchor="middle" font-weight="normal" fill="#000" transform="rotate(-90 57.4 375.94)">0.4</text>
<text x="57.4" y="341.76" font-size="11.2" text-anchor="middle" font-weight="normal" fill="#000" transform="rotate(-90 57.4 341.76)">0.6</text>
<text x="57.4" y="307.58" font-size="11.2" text-anchor="middle" font-weight="normal" fill="#000" transform="rotate(-90 57.4 307.58)">0.8</text>
<text x="57.4" y="273.4" font-size="11.2" text-anchor="middle" font-weight="normal" fill="#000" transform="rotate(-90 57.4 273.4)">1.0</text>
<text x="65.3" y="466.6" font-size="11.2" text-anchor="middle" font-weight="normal" fill="#000">0</text>
<text x="134.33" y="466.6" font-size="11.2" text-anchor="middle" font-weight="normal" fill="#000">50</text>
<text x="203.36" y="466.6" font-size="11.2" text-anchor="middle" font-weight="normal" fill="#000">100</text>
<text x="272.39" y="466.6" font-size="11.2" text-anchor="middle" font-weight="normal" fill="#000">150</text>
<text x="341.42" y="466.6" font-size="11.2" text-anchor="middle" font-weight="normal" fill="#000">200</text>
<text x="223" y="478.8" font-size="13.4" text-anchor="middle" font-weight="normal" fill="#000">Time (Months)</text>
<text x="44.6" y="358.6" font-size="13.3" text-anchor="middle" font-weight="normal" fill="#000" transform="rotate(-90 44.6 358.6)">Fraction Surviving (os)</text>
<text x="105.5" y="428" font-size="11.2" text-anchor="start" font-weight="normal" fill="#000">Low Signature Activity (n = 205)</text>
<text x="105.5" y="441.2" font-size="11.2" text-anchor="start" font-weight="normal" fill="#000">High Signature Activity (n = 90)</text>
<text x="333.3" y="284.0" font-size="11.0" text-anchor="start" font-weight="normal" fill="#000">P−value:</text>
<text x="332.9" y="297.6" font-size="11.0" text-anchor="start" font-weight="normal" fill="#000">9.7e−14</text>
<text transform="translate(413.1 260.5) scale(0.96 1)" font-size="20.5" font-weight="bold">D</text>
<text x="492.6" y="279.7" font-size="11.0" text-anchor="end" font-weight="normal" fill="#000" style="stroke-width:0.7px">GSAS</text>
<text x="492.6" y="308.9" font-size="11.0" text-anchor="end" font-weight="normal" fill="#000" style="stroke-width:0.7px">Age</text>
<text x="492.6" y="338.1" font-size="11.0" text-anchor="end" font-weight="normal" fill="#000" style="stroke-width:0.7px">Tumor Size</text>
<text x="492.6" y="367.4" font-size="11.0" text-anchor="end" font-weight="normal" fill="#000" style="stroke-width:0.7px">Grade</text>
<text x="492.6" y="396.6" font-size="11.0" text-anchor="end" font-weight="normal" fill="#000" style="stroke-width:0.7px">ER</text>
<text x="492.6" y="425.8" font-size="11.0" text-anchor="end" font-weight="normal" fill="#000" style="stroke-width:0.7px">Lymph Node</text>
<text x="561.3" y="455.4" font-size="11.2" text-anchor="middle" font-weight="normal" fill="#000" style="stroke-width:0.7px">2.5</text>
<text x="625.2" y="455.4" font-size="11.2" text-anchor="middle" font-weight="normal" fill="#000" style="stroke-width:0.7px">5.0</text>
<text x="689.1" y="455.4" font-size="11.2" text-anchor="middle" font-weight="normal" fill="#000" style="stroke-width:0.7px">7.5</text>
<text x="753.0" y="455.4" font-size="11.2" text-anchor="middle" font-weight="normal" fill="#000" style="stroke-width:0.7px">10.0</text>
<text x="627.5" y="468.8" font-size="13.4" text-anchor="middle" font-weight="normal" fill="#000" style="stroke-width:0.7px">Hazard Ratio</text>
<text x="699.2" y="291.9" font-size="11.0" text-anchor="start" font-weight="normal" fill="#000" style="stroke-width:0.7px">p ≤ 0.05</text>
<text x="699.2" y="310.6" font-size="11.0" text-anchor="start" font-weight="normal" fill="#000" style="stroke-width:0.7px">p &gt; 0.05</text>
</g>
</svg>
</body></html>
